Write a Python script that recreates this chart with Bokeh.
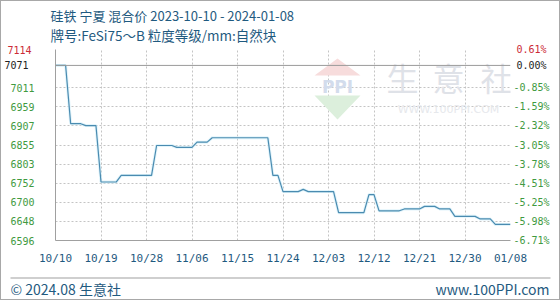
import pandas as pd
from bokeh.plotting import figure
from bokeh.layouts import column
from bokeh.models import Range1d, FixedTicker, LinearAxis, Label, Span, PolyAnnotation, BoxAnnotation
from bokeh.embed import file_html
from bokeh.resources import INLINE

# ---------------- data ----------------
start_date = "2023-10-10"
end_date = "2024-01-08"
dates = pd.date_range(start_date, end_date, freq="D")
prices = [7071, 7071, 7071,
          6913, 6913, 6913,
          6908, 6908, 6908,
          6755, 6755, 6755, 6755,
          6773, 6773, 6773, 6773, 6773, 6773, 6773,
          6854, 6854, 6854, 6854,
          6849, 6849, 6849, 6849,
          6863, 6863, 6863,
          6875, 6875, 6875, 6875, 6875, 6875, 6875, 6875, 6875, 6875, 6875, 6875,
          6773, 6773,
          6729, 6729, 6729, 6729,
          6735,
          6729, 6729, 6729, 6729, 6729, 6729,
          6672, 6672, 6672, 6672, 6672, 6672,
          6721, 6721,
          6677, 6677, 6677, 6677, 6677,
          6682, 6682, 6682, 6682,
          6689, 6689, 6689,
          6682, 6682, 6682,
          6662, 6662, 6662, 6662, 6662,
          6655, 6655, 6655,
          6640, 6640, 6640, 6640]

base_price = 7071
top_pct = 0.61
bottom_pct = -6.71
pct_ticks = [-6.71, -5.98, -5.25, -4.51, -3.78, -3.05, -2.32, -1.59, -0.85]
left_tick_labels = ["6596", "6648", "6700", "6752", "6803", "6855", "6907", "6959", "7011"]
right_tick_labels = ["-6.71%", "-5.98%", "-5.25%", "-4.51%", "-3.78%", "-3.05%", "-2.32%", "-1.59%", "-0.85%"]
top_left_label = "7114"
top_right_label = "0.61%"
base_left_label = "7071"
base_right_label = "0.00%"

x_tick_dates = ["2023-10-10", "2023-10-19", "2023-10-28", "2023-11-06", "2023-11-15",
                "2023-11-24", "2023-12-03", "2023-12-12", "2023-12-21", "2023-12-30", "2024-01-08"]
x_tick_labels = ["10/10", "10/19", "10/28", "11/06", "11/15", "11/24",
                 "12/03", "12/12", "12/21", "12/30", "01/08"]

title_line1 = "硅铁 宁夏 混合价 2023-10-10 - 2024-01-08"
title_line2 = "牌号:FeSi75～B 粒度等级/mm:自然块"
footer_left = "© 2024.08 生意社"
footer_right = "www.100PPI.com"
watermark_chars = ["生", "意", "社"]
watermark_en = "WWW.100PPI.COM"

# ---------------- styles ----------------
CJK = "Noto Sans CJK SC"
MONO = "DejaVu Sans Mono"
BLUE_TXT = "#1f5a80"
GREEN = "#3f9a3f"
RED = "#cc2a36"
GRID = "#c4c4c4"
LINE = "#4a8bb0"
W = 558

def ms(d):
    return pd.Timestamp(d).value // 10**6

def plain(fig):
    fig.outline_line_color = None
    fig.background_fill_color = "white"
    fig.border_fill_color = "white"
    return fig

# ---------------- header ----------------
HDR_H = 42
header = plain(figure(width=W, height=HDR_H, x_range=Range1d(0, W), y_range=Range1d(HDR_H, 0),
                      x_axis_location=None, y_axis_location=None, output_backend="svg",
                      toolbar_location=None, title=None, min_border=0, frame_align=False))
header.grid.visible = False
for txt, yy, fs in [(title_line1, 14, "13px"), (title_line2, 33, "13.5px")]:
    header.add_layout(Label(x=49, y=yy, text=txt, text_baseline="middle", text_color=BLUE_TXT,
                            text_font=CJK, text_font_size=fs))

# ---------------- main chart ----------------
y_start = base_price * (1 + bottom_pct / 100)
y_end = base_price * (1 + top_pct / 100)
tick_vals = [base_price * (1 + p / 100) for p in pct_ticks]
x_ticks = [ms(d) for d in x_tick_dates]

p = plain(figure(width=W, height=233, x_axis_type="datetime",
                 x_range=Range1d(ms(start_date), ms(end_date)),
                 y_range=Range1d(y_start, y_end),
                 output_backend="svg", toolbar_location=None, title=None, frame_align=False,
                 min_border_left=49, min_border_right=49, min_border_top=6, min_border_bottom=36))

p.xgrid.ticker = FixedTicker(ticks=x_ticks)
p.ygrid.ticker = FixedTicker(ticks=tick_vals + [y_end])
for g in (p.xgrid, p.ygrid):
    g.grid_line_color = GRID
    g.grid_line_dash = "2 2"
    g.grid_line_width = 1

def style_axis(ax, size, color, standoff):
    ax.major_tick_line_color = None
    ax.minor_tick_line_color = None
    ax.major_tick_in = 0
    ax.major_tick_out = 0
    ax.minor_tick_in = 0
    ax.minor_tick_out = 0
    ax.major_label_standoff = standoff
    ax.major_label_text_font = MONO
    ax.major_label_text_font_size = size
    ax.major_label_text_color = color

xa = p.xaxis[0]
xa.ticker = FixedTicker(ticks=x_ticks)
xa.major_label_overrides = {t: l for t, l in zip(x_ticks, x_tick_labels)}
xa.axis_line_color = "#a0a0a0"
style_axis(xa, "11px", BLUE_TXT, 11)

ya = p.yaxis[0]
ya.ticker = FixedTicker(ticks=tick_vals)
ya.major_label_overrides = {t: l for t, l in zip(tick_vals, left_tick_labels)}
ya.axis_line_color = "#a0a0a0"
style_axis(ya, "10px", GREEN, 21)

# extra left axes for the red top value and the black base value
for val, txt, col in [(y_end, top_left_label, RED), (base_price, base_left_label, "#222222")]:
    ax = LinearAxis(ticker=FixedTicker(ticks=[val]), major_label_overrides={val: txt})
    ax.axis_line_color = None
    style_axis(ax, "10px", col, -24)
    p.add_layout(ax, "left")

ra = LinearAxis(ticker=FixedTicker(ticks=tick_vals))
ra.major_label_overrides = {t: l for t, l in zip(tick_vals, right_tick_labels)}
ra.axis_line_color = None
style_axis(ra, "10px", GREEN, 3)
p.add_layout(ra, "right")
for val, txt, col in [(y_end, top_right_label, RED), (base_price, base_right_label, "#222222")]:
    ax = LinearAxis(ticker=FixedTicker(ticks=[val]), major_label_overrides={val: txt})
    ax.axis_line_color = None
    style_axis(ax, "10px", col, -36)
    p.add_layout(ax, "right")

p.add_layout(Span(location=base_price, dimension="width", line_color="#9a9a9a", line_width=1))

# watermark logo + text (screen decoration)
p.add_layout(PolyAnnotation(xs=[313, 336, 359], ys=[32, 15, 32], xs_units="canvas", ys_units="canvas",
                            fill_color="#f7dcdc", fill_alpha=1, line_color=None, level="underlay"))
p.add_layout(PolyAnnotation(xs=[313, 359, 336], ys=[52, 52, 76], xs_units="canvas", ys_units="canvas",
                            fill_color="#dcefdc", fill_alpha=1, line_color=None, level="underlay"))
p.add_layout(Label(x=336, y=43, x_units="canvas", y_units="canvas", text="PPI",
                   text_align="center", text_baseline="middle", text_color="#d3dcec",
                   text_font="DejaVu Sans", text_font_style="bold", text_font_size="17px", level="underlay"))
for ch, cx in zip(watermark_chars, [401, 447, 495]):
    p.add_layout(Label(x=cx, y=33, x_units="canvas", y_units="canvas", text=ch,
                       text_align="center", text_baseline="middle", text_color="#dfe2e8",
                       text_font=CJK, text_font_size="32px", level="underlay"))
p.add_layout(Label(x=447, y=66, x_units="canvas", y_units="canvas", text=watermark_en,
                   text_align="center", text_baseline="middle", text_color="#e6e8ec",
                   text_font="DejaVu Sans", text_font_size="11px", level="underlay"))

xs = [ms(d) for d in dates]
p.line(xs, prices, line_color="#d4f0fa", line_width=3.0, line_alpha=0.7)
p.line(xs, prices, line_color=LINE, line_width=1.2)

# ---------------- footer ----------------
FT_H = 23
footer = plain(figure(width=W, height=FT_H, x_range=Range1d(0, W), y_range=Range1d(FT_H, 0),
                      x_axis_location=None, y_axis_location=None, output_backend="svg",
                      toolbar_location=None, title=None, min_border=0, frame_align=False))
footer.grid.visible = False
footer.add_layout(BoxAnnotation(left=9, right=549, top=1, bottom=2, fill_color="#a0a0a0",
                                fill_alpha=1, line_color=None))
footer.add_layout(Label(x=9, y=12, text=footer_left, text_baseline="middle", text_color=BLUE_TXT,
                        text_font=CJK, text_font_size="14px"))
footer.add_layout(Label(x=548, y=12, text=footer_right, text_align="right", text_baseline="middle",
                        text_color=BLUE_TXT, text_font=CJK, text_font_size="14px"))

page = column(header, p, footer, spacing=0, styles={"border": "1px solid #a8a8a8"})
open("out.html", "w").write(file_html(page, INLINE))
